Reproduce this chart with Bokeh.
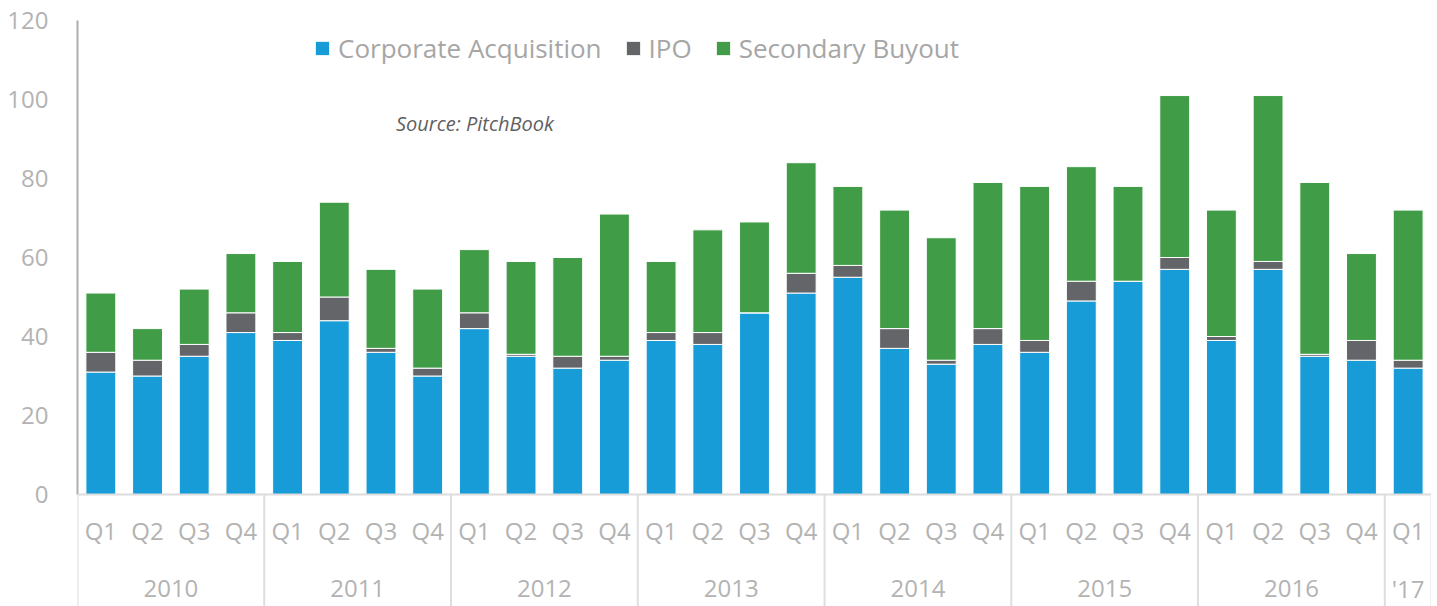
from bokeh.plotting import figure
from bokeh.models import (FactorRange, Range1d, Span, Legend, LegendItem, Label,
                          FixedTicker, ColumnDataSource)
from bokeh.transform import dodge
from bokeh.core.properties import value
from bokeh.embed import file_html
from bokeh.resources import INLINE

# ---------------- data ----------------
years = (["2010"] * 4 + ["2011"] * 4 + ["2012"] * 4 + ["2013"] * 4 +
         ["2014"] * 4 + ["2015"] * 4 + ["2016"] * 4 + ["'17"])
quarters = ["Q1", "Q2", "Q3", "Q4"] * 7 + ["Q1"]

corporate = [31, 30, 35, 41, 39, 44, 36, 30,
             42, 35, 32, 34, 39, 38, 46, 51,
             55, 37, 33, 38, 36, 49, 54, 57,
             39, 57, 35, 34, 32]
ipo = [5, 4, 3, 5, 2, 6, 1, 2,
       4, 0.5, 3, 1, 2, 3, 0, 5,
       3, 5, 1, 4, 3, 5, 0, 3,
       1, 2, 0.5, 5, 2]
secondary = [15, 8, 14, 15, 18, 24, 20, 20,
             16, 23.5, 25, 36, 18, 26, 23, 28,
             20, 30, 31, 37, 39, 29, 24, 41,
             32, 42, 43.5, 22, 38]

series_names = ["Corporate Acquisition", "IPO", "Secondary Buyout"]
series_keys = ["corporate", "ipo", "secondary"]
colors = ["#189cd7", "#636569", "#419c47"]
y_ticks = [0, 20, 40, 60, 80, 100, 120]
source_note = "Source: PitchBook"

# ---------------- figure ----------------
FONT = "Open Sans"
factors = list(zip(years, quarters))
x_range = FactorRange(*factors, group_padding=0, factor_padding=0,
                      subgroup_padding=0, range_padding=0)
Y_BOTTOM = -28.35
p = figure(x_range=x_range, y_range=Range1d(Y_BOTTOM, 120),
           width=1431, height=606, output_backend="svg",
           toolbar_location=None, x_axis_location=None,
           min_border_left=77, min_border_right=0,
           min_border_top=20, min_border_bottom=0)
p.outline_line_color = None
p.xgrid.visible = False
p.ygrid.visible = False
p.background_fill_color = "white"

yax = p.yaxis[0]
yax.ticker = FixedTicker(ticks=y_ticks)
yax.bounds = (0, 120)
yax.axis_line_color = "#aeaeb2"
yax.axis_line_width = 2
yax.major_tick_line_color = None
yax.minor_tick_line_color = None
yax.major_tick_in = 0
yax.major_tick_out = 0
yax.major_label_standoff = 29
yax.major_label_text_font = FONT
yax.major_label_text_font_size = "24px"
yax.major_label_text_color = "#b3b3b3"

source = ColumnDataSource(dict(x=factors, q=quarters, corporate=corporate,
                               ipo=ipo, secondary=secondary))

renderers = p.vbar_stack(series_keys, x="x", width=0.64, color=colors,
                         source=source, line_color="white", line_width=1)

# baseline
p.add_layout(Span(location=0, dimension="width", line_color="#dcdcdc",
                  line_width=2))

# group separators (from the baseline down)
starts = [factors[i] for i in range(len(factors))
          if i == 0 or years[i] != years[i - 1]]
sep_src = ColumnDataSource(dict(x=starts))
p.segment(x0=dodge("x", -0.5, range=x_range), y0=0,
          x1=dodge("x", -0.5, range=x_range), y1=Y_BOTTOM,
          source=sep_src, line_color="#dedede", line_width=2)
end_src = ColumnDataSource(dict(x=[factors[-1]]))
p.segment(x0=dodge("x", 0.5, range=x_range), y0=0,
          x1=dodge("x", 0.5, range=x_range), y1=Y_BOTTOM,
          source=end_src, line_color="#dedede", line_width=2)

# quarter labels
p.text(x="x", y=-9.1, text="q", source=source, text_align="center",
       text_baseline="middle", text_font=value(FONT),
       text_font_size="24px", text_color="#b3b3b3")

# year labels
year_names = []
for y in years:
    if y not in year_names:
        year_names.append(y)
p.text(x=year_names, y=-23.8, text=year_names, text_align="center",
       text_baseline="middle", text_font=value(FONT),
       text_font_size="24px", text_color="#b3b3b3")

# legend
legend = Legend(items=[LegendItem(label=n, renderers=[r])
                       for n, r in zip(series_names, renderers)],
                orientation="horizontal", location=(236, 540),
                border_line_color=None, background_fill_alpha=0,
                padding=0, margin=0, spacing=22, label_standoff=7,
                glyph_width=18, glyph_height=18,
                label_text_font=FONT, label_text_font_size="26px",
                label_text_color="#a6a6a6")
p.add_layout(legend, "center")

# source note
p.add_layout(Label(x=6.82, y=94, text=source_note, text_font=FONT,
                   text_font_size="20px", text_font_style="italic",
                   text_color="#5f5f5f", text_baseline="middle"))

open("out.html", "w").write(file_html(p, INLINE))
